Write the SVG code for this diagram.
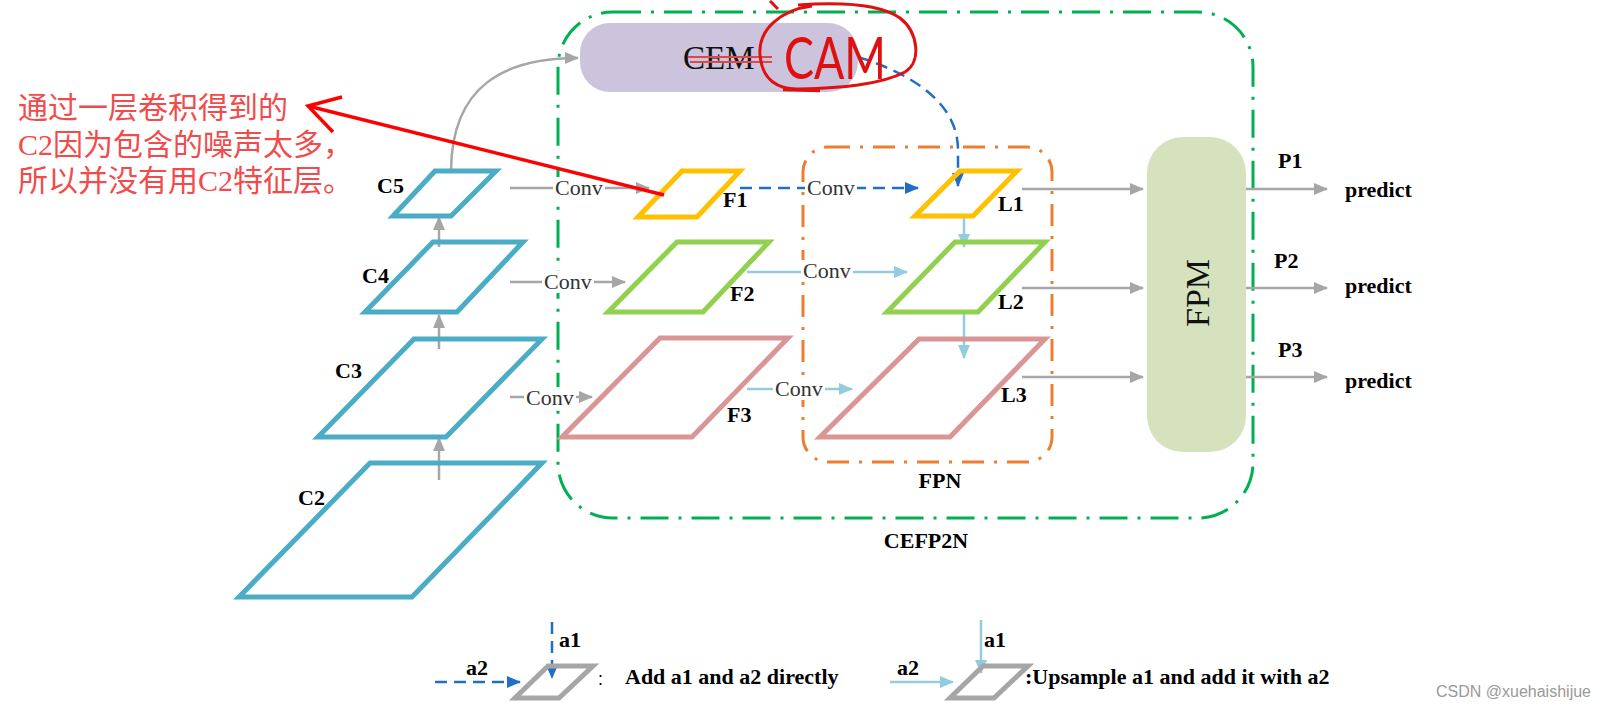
<svg xmlns="http://www.w3.org/2000/svg" width="1618" height="720" viewBox="0 0 1618 720">
<style>
.lbl{font-family:"Liberation Serif","Times New Roman",serif;font-weight:bold;font-size:22px;fill:#000}
.conv{font-family:"Liberation Serif","Times New Roman",serif;font-size:22px;fill:#333}
.c{fill:none;stroke:#4bacc6;stroke-width:5}
.y{fill:none;stroke:#ffc000;stroke-width:5}
.g{fill:none;stroke:#92d050;stroke-width:5}
.p{fill:none;stroke:#d99694;stroke-width:5}
.gl{fill:none;stroke:#a6a6a6;stroke-width:5}
.gray{stroke:#a6a6a6;stroke-width:2.5;fill:none}
.lb{stroke:#93cddd;stroke-width:2.5;fill:none}
.bd{stroke:#1f6fc5;stroke-width:2.5;fill:none;stroke-dasharray:12 7}
.red{font-family:"Liberation Serif","Noto Sans CJK SC",serif;font-size:30px;fill:#f24b4b}
.wbg{fill:#fff}
</style>
<defs>
<marker id="ag" markerUnits="userSpaceOnUse" markerWidth="14" markerHeight="12" refX="13" refY="6" orient="auto"><path d="M0,0 L14,6 L0,12 z" fill="#a6a6a6"/></marker>
<marker id="alb" markerUnits="userSpaceOnUse" markerWidth="14" markerHeight="12" refX="13" refY="6" orient="auto"><path d="M0,0 L14,6 L0,12 z" fill="#93cddd"/></marker>
<marker id="abd" markerUnits="userSpaceOnUse" markerWidth="14" markerHeight="12" refX="13" refY="6" orient="auto"><path d="M0,0 L14,6 L0,12 z" fill="#1f6fc5"/></marker>
</defs>
<rect width="1618" height="720" fill="#fff"/>

<g id="cefp2n">
<rect x="558" y="12" width="695" height="506" rx="55" fill="none" stroke="#00b050" stroke-width="3" stroke-dasharray="28 10 3 10"/>
<text x="926" y="548" text-anchor="middle" class="lbl" font-size="21">CEFP2N</text>
</g>
<g id="fpn">
<rect x="803" y="147" width="249" height="315" rx="25" fill="none" stroke="#ed7d31" stroke-width="3" stroke-dasharray="22 10 3 10"/>
<text x="940" y="488" text-anchor="middle" class="lbl" font-size="21">FPN</text>
</g>

<g id="connectors">
<path class="gray" d="M451 170 C452 85 505 58 578 58" marker-end="url(#ag)"/>
<line class="gray" x1="439" y1="480" x2="439" y2="438" marker-end="url(#ag)"/>
<line class="gray" x1="439" y1="349" x2="439" y2="315" marker-end="url(#ag)"/>
<line class="gray" x1="439" y1="247" x2="439" y2="217" marker-end="url(#ag)"/>
<line class="gray" x1="510" y1="188" x2="649" y2="188" marker-end="url(#ag)"/>
<line class="gray" x1="510" y1="282" x2="625" y2="282" marker-end="url(#ag)"/>
<line class="gray" x1="510" y1="397" x2="592" y2="397" marker-end="url(#ag)"/>
<line class="bd" x1="740" y1="188" x2="918" y2="188" marker-end="url(#abd)"/>
<path class="bd" d="M858 57 C925 78 958 110 958 150 L958 186" marker-end="url(#abd)"/>
<line class="lb" x1="747" y1="272" x2="907" y2="272" marker-end="url(#alb)"/>
<line class="lb" x1="747" y1="389" x2="852" y2="389" marker-end="url(#alb)"/>
<line class="lb" x1="964" y1="216" x2="964" y2="247" marker-end="url(#alb)"/>
<line class="lb" x1="964" y1="312" x2="964" y2="358" marker-end="url(#alb)"/>
<line class="gray" x1="1022" y1="189" x2="1143" y2="189" marker-end="url(#ag)"/>
<line class="gray" x1="1022" y1="288" x2="1143" y2="288" marker-end="url(#ag)"/>
<line class="gray" x1="1022" y1="377" x2="1143" y2="377" marker-end="url(#ag)"/>
<line class="gray" x1="1246" y1="189" x2="1327" y2="189" marker-end="url(#ag)"/>
<line class="gray" x1="1246" y1="288" x2="1327" y2="288" marker-end="url(#ag)"/>
<line class="gray" x1="1246" y1="377" x2="1327" y2="377" marker-end="url(#ag)"/>
<rect class="wbg" x="553" y="177" width="52" height="22"/>
<text class="conv" x="555" y="195">Conv</text>
<rect class="wbg" x="542" y="271" width="52" height="22"/>
<text class="conv" x="544" y="289">Conv</text>
<rect class="wbg" x="524" y="387" width="52" height="22"/>
<text class="conv" x="526" y="405">Conv</text>
<rect class="wbg" x="805" y="177" width="52" height="22"/>
<text class="conv" x="807" y="195">Conv</text>
<rect class="wbg" x="801" y="260" width="52" height="22"/>
<text class="conv" x="803" y="278">Conv</text>
<rect class="wbg" x="773" y="378" width="52" height="22"/>
<text class="conv" x="775" y="396">Conv</text>
</g>

<g id="cem">
<rect x="580" y="23" width="278" height="69" rx="30" fill="#ccc3dc"/>
<text x="683" y="69" font-family="Liberation Serif,serif" font-size="33" fill="#111">CEM</text>
</g>

<g id="C5"><polygon class="c" points="435,171 496,171 451,216 393,216"/><text class="lbl" x="377" y="193">C5</text></g>
<g id="C4"><polygon class="c" points="433,242 523,242 457,312 365,312"/><text class="lbl" x="362" y="283">C4</text></g>
<g id="C3"><polygon class="c" points="414,339 542,339 446,437 318,437"/><text class="lbl" x="335" y="378">C3</text></g>
<g id="C2"><polygon class="c" points="370,463 542,463 412,597 239,597"/><text class="lbl" x="298" y="505">C2</text></g>

<g id="F1"><polygon class="y" points="682,171 740,171 697,217 638,217"/><text class="lbl" x="723" y="207">F1</text></g>
<g id="F2"><polygon class="g" points="677,242 769,242 703,312 608,312"/><text class="lbl" x="730" y="301">F2</text></g>
<g id="F3"><polygon class="p" points="660,338 788,338 692,437 562,437"/><text class="lbl" x="727" y="422">F3</text></g>

<g id="L1"><polygon class="y" points="960,171 1017,171 973,216 915,216"/><text class="lbl" x="998" y="211">L1</text></g>
<g id="L2"><polygon class="g" points="955,242 1045,242 978,312 887,312"/><text class="lbl" x="998" y="309">L2</text></g>
<g id="L3"><polygon class="p" points="919,339 1045,339 950,437 820,437"/><text class="lbl" x="1001" y="402">L3</text></g>

<g id="FPM">
<rect x="1147" y="137" width="99" height="315" rx="36" fill="#d6e2bd"/>
<text x="1197" y="293" transform="rotate(-90 1197 293)" text-anchor="middle" dominant-baseline="central" font-family="Liberation Serif,serif" font-size="34" fill="#111">FPM</text>
</g>

<g id="outputs">
<text class="lbl" x="1278" y="168" font-size="21">P1</text>
<text class="lbl" x="1274" y="268" font-size="21">P2</text>
<text class="lbl" x="1278" y="357" font-size="21">P3</text>
<text class="lbl" x="1345" y="197" font-size="21">predict</text>
<text class="lbl" x="1345" y="293" font-size="21">predict</text>
<text class="lbl" x="1345" y="388" font-size="21">predict</text>
</g>

<g id="annotation">
<line x1="688" y1="57" x2="772" y2="57" stroke="#e04848" stroke-width="2"/>
<line x1="690" y1="62" x2="772" y2="62" stroke="#e04848" stroke-width="2"/>
<text x="784" y="79" font-family="Lato,'Liberation Sans',sans-serif" font-weight="400" font-size="58" fill="#e01010" textLength="102" lengthAdjust="spacingAndGlyphs">CAM</text>
<path d="M770 1 L778 9 M812 6 C780 10 758 30 760 55 C762 80 778 90 800 89 C840 88 880 85 905 72 C922 62 918 32 900 18 C880 4 840 2 798 5" fill="none" stroke="#e01010" stroke-width="3"/>
<line x1="783" y1="90" x2="820" y2="91" stroke="#e01010" stroke-width="2.5"/>
<line x1="664" y1="195" x2="308" y2="106" stroke="#f00" stroke-width="3.5"/>
<polyline points="342,97 308,106 333,132" fill="none" stroke="#f00" stroke-width="3.5"/>
<text class="red" x="18" y="118">通过一层卷积得到的</text>
<text class="red" x="18" y="155">C2因为包含的噪声太多，</text>
<text class="red" x="18" y="191">所以并没有用C2特征层。</text>
</g>

<g id="legend">
<line class="bd" x1="435" y1="682" x2="520" y2="682" marker-end="url(#abd)"/>
<line class="bd" x1="552" y1="622" x2="552" y2="678" marker-end="url(#abd)"/>
<polygon class="gl" points="548,666 593,666 559,698 515,698"/>
<text class="lbl" x="559" y="647" font-size="20">a1</text>
<text class="lbl" x="466" y="675" font-size="20">a2</text>
<text x="597" y="684" font-family="Noto Sans CJK SC,sans-serif" font-size="14" fill="#000">：</text>
<text class="lbl" x="625" y="684" font-size="21">Add a1 and a2 directly</text>
<line class="lb" x1="890" y1="682" x2="953" y2="682" marker-end="url(#alb)"/>
<line class="lb" x1="981" y1="620" x2="981" y2="673" marker-end="url(#alb)"/>
<polygon class="gl" points="983,666 1028,666 994,698 950,698"/>
<text class="lbl" x="984" y="647" font-size="20">a1</text>
<text class="lbl" x="897" y="675" font-size="20">a2</text>
<text class="lbl" x="1025" y="684" font-size="21">:Upsample a1 and add it with a2</text>
<text x="1436" y="697" font-family="Liberation Sans Narrow,Liberation Sans,sans-serif" font-size="16" fill="#999">CSDN @xuehaishijue</text>
</g>
</svg>
